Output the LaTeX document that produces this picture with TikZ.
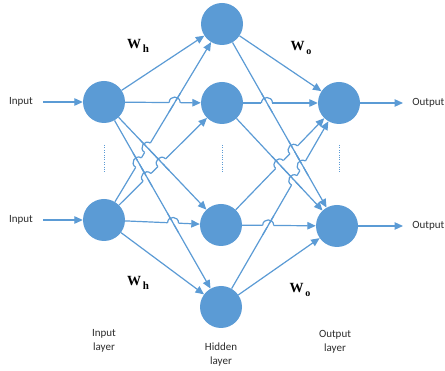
\documentclass[tikz,border=0pt]{standalone}
\usepackage{fontspec}
\setmainfont{Carlito}
\newfontfamily\wfont{Liberation Serif}
\usetikzlibrary{arrows.meta,calc,intersections}
\definecolor{nnblue}{RGB}{91,155,213}
\definecolor{txt}{RGB}{45,45,45}
\newcommand\hr{5.5pt}
% #1 crossing, #2/#3 ends of the hopping line, #4/#5 ends of the crossed line
\newcommand\jump[5]{%
  \coordinate (jp1) at ($(#1)!\hr!(#2)$);
  \coordinate (jp2) at ($(#1)!\hr!(#3)$);
  \draw[white, line width=3.4pt] (jp1) -- (jp2);
  \draw[conn] ($(#1)!2*\hr!(#4)$) -- ($(#1)!2*\hr!(#5)$);
  \draw[conn] (jp1) .. controls ($(jp1)!1.333*\hr!90:(jp2)$) and ($(jp2)!1.333*\hr!-90:(jp1)$) .. (jp2);
}
\begin{document}
\begin{tikzpicture}[x=1pt, y={(0pt,-1pt)},
  neuron/.style={circle, fill=nnblue, minimum size=42pt, inner sep=0pt},
  conn/.style={draw=nnblue, line width=1.2pt},
  arr/.style={conn, -{Triangle[length=8.5pt,width=7.5pt]}},
  lbl/.style={font=\fontsize{11}{14}\selectfont, text=txt, align=center, inner sep=0pt},
  wlbl/.style={font=\wfont\bfseries\fontsize{14}{14}\selectfont, inner sep=0pt},
  dotline/.style={draw=nnblue, line width=1pt, dash pattern=on 1pt off 1.4pt}]
\useasboundingbox (0,0) rectangle (445,371);
\fill[white] (0,0) rectangle (445,371);

% neurons
\node[neuron] (I1) at (104,102) {};
\node[neuron] (I2) at (104,220) {};
\node[neuron] (H1) at (222,24) {};
\node[neuron] (H2) at (222,103) {};
\node[neuron] (H3) at (221,225) {};
\node[neuron] (H4) at (221,307) {};
\node[neuron] (O1) at (339,103) {};
\node[neuron] (O2) at (337,226) {};

% inputs and outputs
\node[lbl] (tin1) at (21,102) {Input};
\node[lbl] (tin2) at (21,220) {Input};
\coordinate (a1) at (43,102);
\coordinate (a2) at (43,220);
\draw[arr] (a1) -- (I1);
\draw[arr] (a2) -- (I2);
\coordinate (b1) at (403,103);
\coordinate (b2) at (403,226);
\draw[arr] (O1) -- (b1);
\draw[arr] (O2) -- (b2);
\node[lbl, anchor=east] (tout1) at (444.5,103) {Output};
\node[lbl, anchor=east] (tout2) at (444.5,226) {Output};

% input -> hidden
\draw[arr, name path=i1h1] (I1) -- (H1);
\draw[arr, name path=i1h2] (I1) -- (H2);
\draw[arr, name path=i1h3] (I1) -- (H3);
\draw[arr, name path=i1h4] (I1) -- (H4);
\draw[arr, name path=i2h1] (I2) -- (H1);
\draw[arr, name path=i2h2] (I2) -- (H2);
\draw[arr, name path=i2h3] (I2) -- (H3);
\draw[arr, name path=i2h4] (I2) -- (H4);

% hidden -> output
\draw[arr, name path=h1o1] (H1) -- (O1);
\draw[arr, name path=h1o2] (H1) -- (O2);
\draw[arr, name path=h2o1] (H2) -- (O1);
\draw[arr, name path=h2o2] (H2) -- (O2);
\draw[arr, name path=h3o1] (H3) -- (O1);
\draw[arr, name path=h3o2] (H3) -- (O2);
\draw[arr, name path=h4o1] (H4) -- (O1);
\draw[arr, name path=h4o2] (H4) -- (O2);

% crossings
\path[name intersections={of=i1h2 and i2h1, by=x1}];
\path[name intersections={of=i2h3 and i1h4, by=x2}];
\path[name intersections={of=i2h1 and i1h3, by=x3}];
\path[name intersections={of=i2h1 and i1h4, by=x4}];
\path[name intersections={of=i2h2 and i1h3, by=x5}];
\path[name intersections={of=i2h2 and i1h4, by=x6}];
\path[name intersections={of=h2o1 and h1o2, by=y1}];
\path[name intersections={of=h3o2 and h4o1, by=y2}];
\path[name intersections={of=h3o1 and h1o2, by=y3}];
\path[name intersections={of=h3o1 and h2o2, by=y4}];
\path[name intersections={of=h4o1 and h1o2, by=y5}];
\path[name intersections={of=h4o1 and h2o2, by=y6}];

\jump{x1}{I1}{H2}{I2}{H1}
\jump{x2}{I2}{H3}{I1}{H4}
\jump{x3}{I2}{H1}{I1}{H3}
\jump{x4}{I2}{H1}{I1}{H4}
\jump{x5}{I2}{H2}{I1}{H3}
\jump{x6}{I2}{H2}{I1}{H4}
\jump{y1}{H2}{O1}{H1}{O2}
\jump{y2}{H3}{O2}{H4}{O1}
\jump{y3}{H3}{O1}{H1}{O2}
\jump{y4}{H3}{O1}{H2}{O2}
\jump{y5}{H4}{O1}{H1}{O2}
\jump{y6}{H4}{O1}{H2}{O2}

% dotted ellipses
\coordinate (d1a) at (104,145); \coordinate (d1b) at (104,172);
\coordinate (d2a) at (222,145); \coordinate (d2b) at (222,172);
\coordinate (d3a) at (339,145); \coordinate (d3b) at (339,172);
\draw[dotline] (d1a) -- (d1b);
\draw[dotline] (d2a) -- (d2b);
\draw[dotline] (d3a) -- (d3b);

% weight labels
\node[wlbl] (wh1) at (138,46) {W\raisebox{-4.5pt}{\fontsize{11}{11}\selectfont\,h}};
\node[wlbl] (wh2) at (138,283) {W\raisebox{-4.5pt}{\fontsize{11}{11}\selectfont\,h}};
\node[wlbl] (wo1) at (301,48) {W\raisebox{-4.5pt}{\fontsize{10}{10}\selectfont\,o}};
\node[wlbl] (wo2) at (300,290) {W\raisebox{-4.5pt}{\fontsize{10}{10}\selectfont\,o}};

% layer labels
\node[lbl] (lin) at (104,341) {Input\\layer};
\node[lbl] (lhid) at (221,355) {Hidden\\layer};
\node[lbl] (lout) at (335,342) {Output\\layer};
\end{tikzpicture}
\end{document}
